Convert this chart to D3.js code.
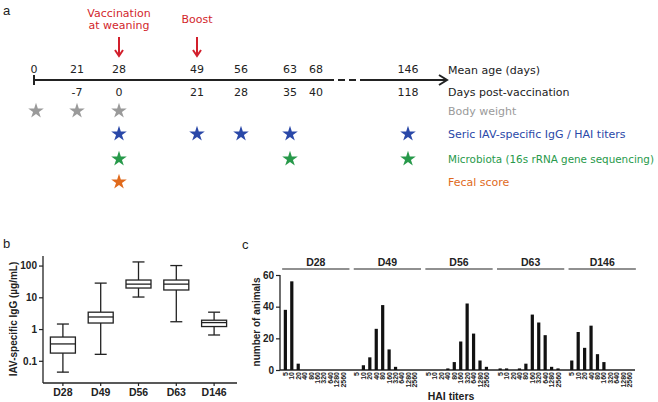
<!DOCTYPE html>
<html><head><meta charset="utf-8">
<script src="https://cdn.jsdelivr.net/npm/d3@7"></script>
<style>body{margin:0;background:#fff} svg{display:block}</style>
</head><body>
<svg id="chart" width="658" height="402"></svg>
<script>
// ---- Panel a data ----
const meanAge = [0, 21, 28, 49, 56, 63, 68, 146];
const daysPostVac = ["", "-7", "0", "21", "28", "35", "40", "118"];
const eventDays = [28, 49];
const eventLabels = [["Vaccination", "at weaning"], ["Boost"]];
const bodyWeightDays = [0, 21, 28];
const iggDays = [28, 49, 56, 63, 146];
const microbiotaDays = [28, 63, 146];
const fecalDays = [28];
const measureNames = ["Body weight", "Seric IAV-specific IgG / HAI titers", "Microbiota (16s rRNA gene sequencing)", "Fecal score"];

// ---- Panel b data ----
const boxDays = ["D28", "D49", "D56", "D63", "D146"];
const boxMin = [0.044, 0.16, 10.2, 1.7, 0.65];
const boxQ1 = [0.175, 1.55, 19.6, 17, 1.2];
const boxMed = [0.34, 2.4, 26, 26, 1.6];
const boxQ3 = [0.56, 3.4, 35, 35, 1.9];
const boxMax = [1.44, 28, 130, 100, 3.4];
const boxTicks = [0.1, 1, 10, 100];

// ---- Panel c data ----
const haiTiters = ["5", "10", "20", "40", "80", "160", "320", "640", "1280", "2560"];
const haiD28 = [38, 56, 4, 0, 0, 0, 0, 0, 0, 0];
const haiD49 = [0, 3, 8, 26, 41, 13, 2, 0, 0, 0];
const haiD56 = [0, 0, 0, 1, 5, 18, 42, 23, 6, 2];
const haiD63 = [1, 1, 0, 1, 4, 35, 30, 22, 2, 1];
const haiD146 = [6, 24, 14, 28, 10, 5, 0, 0, 0, 0];
const haiTicks = [0, 20, 40, 60];

const svg = d3.select("#chart");
svg.append("rect").attr("width", 658).attr("height", 402).attr("fill", "#fff");

const VERD = "'DejaVu Sans', Verdana, sans-serif";
const ARIAL = "'Liberation Sans', Arial, sans-serif";
const RED = "#d21f2c", BLUE = "#2a48a8", GREEN = "#27994a", ORANGE = "#e06a1c", GRAY = "#9a9a9a";

// panel letters
[["a", 3, 15], ["b", 3, 248], ["c", 242, 249]].forEach(([t, x, y]) =>
  svg.append("text").attr("x", x).attr("y", y).text(t)
    .attr("font-family", ARIAL).attr("font-size", 13).attr("fill", "#222"));

// ================= Panel a =================
const gA = svg.append("g");
const xT = d3.scaleLinear().domain(meanAge).range([34, 77, 119, 197, 241, 290, 316, 408]);
const lineY = 80;
const dashStart = xT(68) + 11, dashEnd = xT(146) - 43;
gA.append("line").attr("x1", xT(0)).attr("x2", dashStart).attr("y1", lineY).attr("y2", lineY)
  .attr("stroke", "#222").attr("stroke-width", 2);
gA.append("line").attr("x1", dashStart).attr("x2", dashEnd).attr("y1", lineY).attr("y2", lineY)
  .attr("stroke", "#222").attr("stroke-width", 2).attr("stroke-dasharray", "7,4");
gA.append("line").attr("x1", dashEnd).attr("x2", xT(146) + 38).attr("y1", lineY).attr("y2", lineY)
  .attr("stroke", "#222").attr("stroke-width", 2);
gA.append("path").attr("d", `M${xT(146) + 31},${lineY - 5} L${xT(146) + 39},${lineY} L${xT(146) + 31},${lineY + 5}`)
  .attr("fill", "none").attr("stroke", "#222").attr("stroke-width", 2);
gA.append("line").attr("x1", xT(0)).attr("x2", xT(0)).attr("y1", lineY - 5).attr("y2", lineY + 5)
  .attr("stroke", "#222").attr("stroke-width", 2);

gA.selectAll(".age").data(meanAge).enter().append("text")
  .attr("x", d => xT(d)).attr("y", 73).attr("text-anchor", "middle")
  .attr("font-family", VERD).attr("font-size", 11).attr("fill", "#222").text(d => d);
gA.selectAll(".pv").data(meanAge).enter().append("text")
  .attr("x", d => xT(d)).attr("y", 96).attr("text-anchor", "middle")
  .attr("font-family", VERD).attr("font-size", 11).attr("fill", "#222").text((d, i) => daysPostVac[i]);
gA.append("text").attr("x", 448).attr("y", 74).attr("font-family", VERD).attr("font-size", 11)
  .attr("fill", "#222").text("Mean age (days)");
gA.append("text").attr("x", 448).attr("y", 96).attr("font-family", VERD).attr("font-size", 11)
  .attr("fill", "#222").text("Days post-vaccination");

// events
eventDays.forEach((d, i) => {
  const x = xT(d);
  const lines = eventLabels[i];
  const baseY = lines.length === 2 ? 17 : 23;
  lines.forEach((t, j) => gA.append("text").attr("x", x).attr("y", baseY + j * 12)
    .attr("text-anchor", "middle").attr("font-family", VERD).attr("font-size", 11)
    .attr("fill", RED).text(t));
  gA.append("line").attr("x1", x).attr("x2", x).attr("y1", 37).attr("y2", 56)
    .attr("stroke", RED).attr("stroke-width", 2);
  gA.append("path").attr("d", `M${x - 4},${50} L${x},${56} L${x + 4},${50}`)
    .attr("fill", "none").attr("stroke", RED).attr("stroke-width", 2);
});

// measurement stars
const starPath = d3.symbol(d3.symbolStar, 75)();
const rows = [
  { days: bodyWeightDays, color: GRAY, y: 111 },
  { days: iggDays, color: BLUE, y: 134 },
  { days: microbiotaDays, color: GREEN, y: 159 },
  { days: fecalDays, color: ORANGE, y: 182 }
];
rows.forEach((r, i) => {
  gA.selectAll(null).data(r.days).enter().append("path")
    .attr("d", starPath).attr("transform", d => `translate(${xT(d) + (d === 0 ? 2 : 0)},${r.y})`)
    .attr("fill", r.color);
  const t = gA.append("text").attr("x", 448).attr("y", r.y + 4).attr("font-family", VERD)
    .attr("font-size", i === 2 ? 10.3 : 11)
    .attr("fill", r.color).text(measureNames[i]);
  if (i === 2) t.attr("textLength", 206).attr("lengthAdjust", "spacingAndGlyphs");
});

// ================= Panel b =================
const gB = svg.append("g");
const yB = d3.scaleLog().domain([0.02, 200]).range([383, 256]);
const xB = d3.scaleBand().domain(boxDays).range([44, 233]);
const bw = 25, cap = 12;
gB.append("line").attr("x1", 43).attr("x2", 43).attr("y1", 256).attr("y2", 383).attr("stroke", "#222").attr("stroke-width", 1.3);
gB.append("line").attr("x1", 43).attr("x2", 237).attr("y1", 383).attr("y2", 383).attr("stroke", "#222").attr("stroke-width", 1.3);
const yAxB = gB.append("g").attr("transform", "translate(43,0)")
  .call(d3.axisLeft(yB).tickValues(boxTicks).tickFormat(d => d3.format("~g")(d)).tickSize(4).tickPadding(2));
yAxB.select(".domain").remove();
yAxB.selectAll("text").attr("font-family", ARIAL).attr("font-weight", "bold").attr("font-size", 10).attr("fill", "#222");
yAxB.selectAll("line").attr("stroke", "#222").attr("stroke-width", 1.2);
const xAxB = gB.append("g").attr("transform", "translate(0,383)")
  .call(d3.axisBottom(xB).tickSize(3).tickPadding(3));
xAxB.select(".domain").remove();
xAxB.selectAll("text").attr("font-family", ARIAL).attr("font-weight", "bold").attr("font-size", 10.5).attr("fill", "#222");
xAxB.selectAll("line").attr("stroke", "#222").attr("stroke-width", 1.2);

boxDays.forEach((d, i) => {
  const cx = xB(d) + xB.bandwidth() / 2;
  const g = gB.append("g").attr("stroke", "#222").attr("stroke-width", 1.3).attr("fill", "none");
  g.append("line").attr("x1", cx).attr("x2", cx).attr("y1", yB(boxMax[i])).attr("y2", yB(boxQ3[i]));
  g.append("line").attr("x1", cx).attr("x2", cx).attr("y1", yB(boxQ1[i])).attr("y2", yB(boxMin[i]));
  g.append("line").attr("x1", cx - cap / 2).attr("x2", cx + cap / 2).attr("y1", yB(boxMax[i])).attr("y2", yB(boxMax[i]));
  g.append("line").attr("x1", cx - cap / 2).attr("x2", cx + cap / 2).attr("y1", yB(boxMin[i])).attr("y2", yB(boxMin[i]));
  g.append("rect").attr("x", cx - bw / 2).attr("width", bw).attr("y", yB(boxQ3[i]))
    .attr("height", yB(boxQ1[i]) - yB(boxQ3[i])).attr("fill", "#fff");
  g.append("line").attr("x1", cx - bw / 2).attr("x2", cx + bw / 2).attr("y1", yB(boxMed[i])).attr("y2", yB(boxMed[i]));
});
gB.append("text").attr("transform", "translate(17,319) rotate(-90)").attr("text-anchor", "middle")
  .attr("font-family", ARIAL).attr("font-weight", "bold").attr("font-size", 10).attr("fill", "#222")
  .text("IAV-specific IgG (µg/mL)");

// ================= Panel c =================
const gC = svg.append("g");
const haiSeries = [haiD28, haiD49, haiD56, haiD63, haiD146];
const yC = d3.scaleLinear().domain([0, 60]).range([370, 275]);
const xG = d3.scaleBand().domain(boxDays).range([280, 638]).paddingInner(0.06).paddingOuter(0.03);
const xI = d3.scaleBand().domain(haiTiters).range([0, xG.bandwidth() - 3]).paddingInner(0.5).paddingOuter(0.25);

gC.append("line").attr("x1", 280).attr("x2", 280).attr("y1", 275).attr("y2", 370).attr("stroke", "#222").attr("stroke-width", 1.3);
gC.append("line").attr("x1", 280).attr("x2", xG.range()[1] - 3).attr("y1", 370).attr("y2", 370).attr("stroke", "#222").attr("stroke-width", 1.3);
const yAxC = gC.append("g").attr("transform", "translate(280,0)")
  .call(d3.axisLeft(yC).tickValues(haiTicks).tickSize(4).tickPadding(2));
yAxC.select(".domain").remove();
yAxC.selectAll("text").attr("font-family", ARIAL).attr("font-weight", "bold").attr("font-size", 10).attr("fill", "#222");
yAxC.selectAll("line").attr("stroke", "#222").attr("stroke-width", 1.2);

boxDays.forEach((d, gi) => {
  const gx = xG(d);
  const g = gC.append("g").attr("transform", `translate(${gx},0)`);
  g.append("line").attr("x1", 0).attr("x2", xG.bandwidth()).attr("y1", 269).attr("y2", 269)
    .attr("stroke", "#222").attr("stroke-width", 1.2);
  g.append("text").attr("x", xG.bandwidth() / 2).attr("y", 266).attr("text-anchor", "middle")
    .attr("font-family", ARIAL).attr("font-weight", "bold").attr("font-size", 10.5).attr("fill", "#222").text(d);
  g.selectAll("rect").data(haiSeries[gi]).enter().append("rect")
    .attr("x", (v, i) => xI(haiTiters[i])).attr("width", xI.bandwidth())
    .attr("y", v => yC(v)).attr("height", v => yC(0) - yC(v)).attr("fill", "#111");
  g.selectAll(".tl").data(haiTiters).enter().append("text")
    .attr("transform", t => `translate(${xI(t) + xI.bandwidth() / 2 + 2.5},372) rotate(-90)`)
    .attr("text-anchor", "end").attr("font-family", ARIAL).attr("font-weight", "bold")
    .attr("font-size", 7).attr("fill", "#222").text(t => t);
});
gC.append("text").attr("transform", "translate(260,322) rotate(-90)").attr("text-anchor", "middle")
  .attr("font-family", ARIAL).attr("font-weight", "bold").attr("font-size", 10).attr("fill", "#222")
  .text("number of animals");
gC.append("text").attr("x", 451).attr("y", 400).attr("text-anchor", "middle")
  .attr("font-family", ARIAL).attr("font-weight", "bold").attr("font-size", 10.5).attr("fill", "#222")
  .text("HAI titers");
</script>
</body></html>
